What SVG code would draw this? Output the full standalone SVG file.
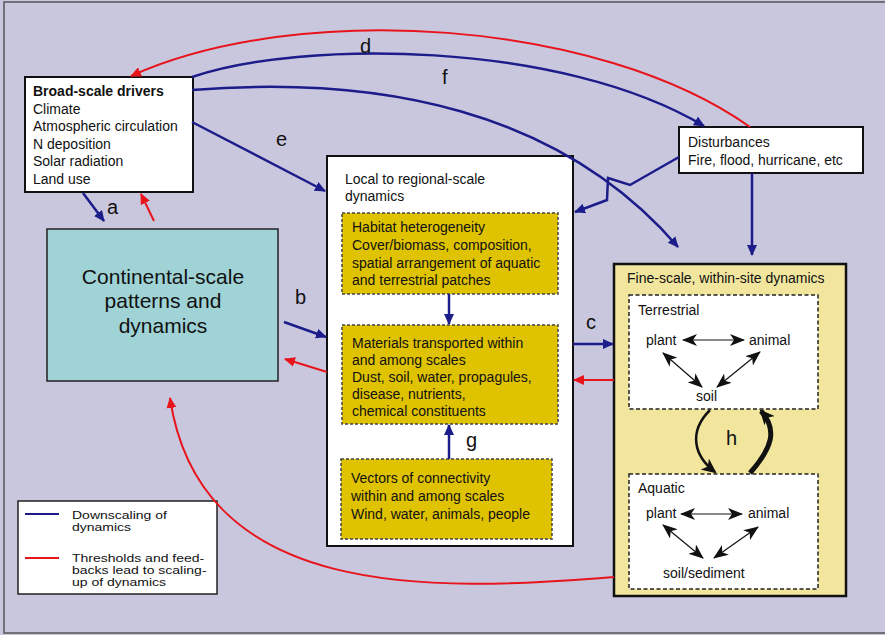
<svg xmlns="http://www.w3.org/2000/svg" width="885" height="635" viewBox="0 0 885 635">
<style>
text{font-family:"Liberation Sans",Arial,sans-serif;fill:#111;font-size:14px}
.lbl{font-size:20px}
.blue{stroke:#1c1c8a;stroke-width:2.5;fill:none}
.red{stroke:#e8141c;stroke-width:2;fill:none}
.box{fill:#fff;stroke:#111;stroke-width:2}
.gold{fill:#dfc200;stroke:#444;stroke-width:1.5;stroke-dasharray:3,2}
.dash{fill:#fff;stroke:#222;stroke-width:1.5;stroke-dasharray:4,2.5}
.bi{stroke:#111;stroke-width:1.2;fill:none;marker-start:url(#dh);marker-end:url(#dh)}
</style>
<defs>
<marker id="ab" markerUnits="userSpaceOnUse" markerWidth="12" markerHeight="10" refX="10" refY="5" orient="auto"><path d="M0,0 L11,5 L0,10 z" fill="#1c1c8a"/></marker>
<marker id="ar" markerUnits="userSpaceOnUse" markerWidth="12" markerHeight="10" refX="10" refY="5" orient="auto"><path d="M0,0 L11,5 L0,10 z" fill="#e8141c"/></marker>
<marker id="dh" markerUnits="userSpaceOnUse" markerWidth="16" markerHeight="12" refX="14" refY="6" orient="auto-start-reverse"><path d="M0,0 L15,6 L0,12 L4,6 z" fill="#111"/></marker>
<marker id="ak" markerUnits="userSpaceOnUse" markerWidth="16" markerHeight="14" refX="13" refY="7" orient="auto"><path d="M0,0 L15,7 L0,14 L4,7 z" fill="#111"/></marker>
</defs>
<rect x="0" y="0" width="885" height="635" fill="#c9c7dd"/>
<rect x="4" y="2" width="890" height="631" fill="none" stroke="#555" stroke-width="1.5"/>

<g id="broad">
<rect class="box" x="25" y="77" width="168" height="115"/>
<text x="33" y="96" font-weight="bold">Broad-scale drivers</text>
<text x="33" y="113.5">Climate</text>
<text x="33" y="131">Atmospheric circulation</text>
<text x="33" y="148.5">N deposition</text>
<text x="33" y="166">Solar radiation</text>
<text x="33" y="183.5">Land use</text>
</g>

<g id="continental">
<rect x="47" y="229" width="231" height="152" fill="#9fd3d6" stroke="#222" stroke-width="1.5"/>
<text x="163" y="284" text-anchor="middle" style="font-size:21px">Continental-scale</text>
<text x="163" y="308" text-anchor="middle" style="font-size:21px">patterns and</text>
<text x="163" y="333" text-anchor="middle" style="font-size:21px">dynamics</text>
</g>

<g id="disturbances">
<rect class="box" x="679" y="127" width="184" height="46"/>
<text x="688" y="147">Disturbances</text>
<text x="688" y="165">Fire, flood, hurricane, etc</text>
</g>

<g id="local">
<rect class="box" x="327" y="156" width="246" height="390"/>
<text x="345" y="184">Local to regional-scale</text>
<text x="345" y="201">dynamics</text>
</g>

<g id="habitat">
<rect class="gold" x="342" y="213" width="216" height="81"/>
<text x="352" y="232">Habitat heterogeneity</text>
<text x="352" y="250">Cover/biomass, composition,</text>
<text x="352" y="268">spatial arrangement of aquatic</text>
<text x="352" y="285">and terrestrial patches</text>
</g>

<g id="materials">
<rect class="gold" x="342" y="325" width="216" height="99"/>
<text x="352" y="348">Materials transported within</text>
<text x="352" y="365">and among scales</text>
<text x="352" y="382">Dust, soil, water, propagules,</text>
<text x="352" y="399">disease, nutrients,</text>
<text x="352" y="416">chemical constituents</text>
</g>

<g id="vectors">
<rect class="gold" x="341" y="459" width="211" height="80"/>
<text x="351" y="483">Vectors of connectivity</text>
<text x="351" y="501">within and among scales</text>
<text x="351" y="519">Wind, water, animals, people</text>
</g>

<g id="finescale">
<rect x="614" y="264" width="232" height="332" fill="#f2e69e" stroke="#111" stroke-width="2.5"/>
<text x="627" y="283">Fine-scale, within-site dynamics</text>
</g>

<g id="terrestrial">
<rect class="dash" x="629" y="295" width="189" height="114"/>
<text x="638" y="315">Terrestrial</text>
<text x="646" y="345">plant</text>
<text x="749" y="345">animal</text>
<text x="696" y="401">soil</text>
<path class="bi" d="M683,340 L744,340"/>
<path class="bi" d="M663,353 L702,387"/>
<path class="bi" d="M760,352 L717,387"/>
</g>

<g id="aquatic">
<rect class="dash" x="629" y="474" width="189" height="115"/>
<text x="638" y="493">Aquatic</text>
<text x="646" y="518">plant</text>
<text x="748" y="518">animal</text>
<text x="663" y="578">soil/sediment</text>
<path class="bi" d="M681,514 L742,514"/>
<path class="bi" d="M663,525 L703,558"/>
<path class="bi" d="M758,527 L714,558"/>
</g>

<g id="legend">
<rect x="18" y="501" width="199" height="93" fill="#fff" stroke="#222" stroke-width="1.5"/>
<line x1="25" y1="514" x2="59" y2="514" stroke="#1c1c8a" stroke-width="2"/>
<line x1="25" y1="558" x2="59" y2="558" stroke="#e8141c" stroke-width="2"/>
<text transform="translate(72,518.5) scale(1,0.78)">Downscaling of</text>
<text transform="translate(72,531) scale(1,0.78)">dynamics</text>
<text transform="translate(72,561.5) scale(1,0.78)">Thresholds and feed-</text>
<text transform="translate(72,574) scale(1,0.78)">backs lead to scaling-</text>
<text transform="translate(72,586) scale(1,0.78)">up of dynamics</text>
</g>

<g id="connectors">
<path class="red" d="M750,127 C600,20 300,0 131,76" marker-end="url(#ar)"/>
<path class="blue" d="M192,77 C300,40 560,40 704,126" marker-end="url(#ab)"/>
<path class="blue" d="M192,90 C380,75 560,110 678,247" marker-end="url(#ab)"/>
<path class="blue" d="M192,122 L325,191" marker-end="url(#ab)"/>
<path class="blue" d="M679,157 L630,185 L608,178 L607,200 L575,212" marker-end="url(#ab)"/>
<path class="blue" d="M752,173 L752,255" marker-end="url(#ab)"/>
<path class="blue" d="M83,193 L104,221" marker-end="url(#ab)"/>
<path class="red" d="M154,221 L141,194" marker-end="url(#ar)"/>
<path class="blue" d="M284,322 L326,337" stroke-width="2" marker-end="url(#ab)"/>
<path class="red" d="M327,372 L285,359" marker-end="url(#ar)"/>
<path class="blue" d="M573,344 L613,344" marker-end="url(#ab)"/>
<path class="red" d="M614,380 L574,380" marker-end="url(#ar)"/>
<path class="red" d="M614,577 C430,592 200,600 170,398" marker-end="url(#ar)"/>
<path class="blue" d="M449,294 L449,324" marker-end="url(#ab)"/>
<path class="blue" d="M449,459 L449,425" marker-end="url(#ab)"/>
<path d="M710,410 C688,432 694,456 715,472" stroke="#111" stroke-width="2.5" fill="none" marker-end="url(#ak)"/>
<path d="M750,473 C772,448 778,430 761,411" stroke="#111" stroke-width="5" fill="none" marker-end="url(#ak)"/>
<text class="lbl" x="107" y="214">a</text>
<text class="lbl" x="295" y="304">b</text>
<text class="lbl" x="586" y="329">c</text>
<text class="lbl" x="360" y="53">d</text>
<text class="lbl" x="276" y="146">e</text>
<text class="lbl" x="442" y="84">f</text>
<text class="lbl" x="466" y="447">g</text>
<text class="lbl" x="726" y="445">h</text>
</g>
</svg>
